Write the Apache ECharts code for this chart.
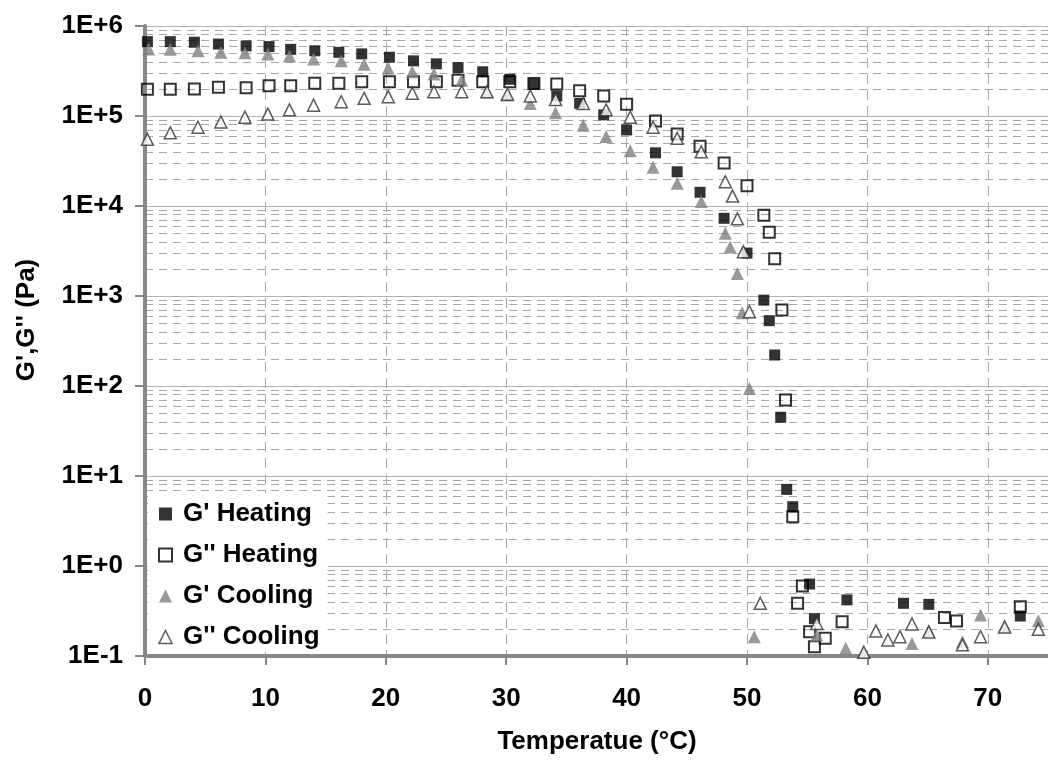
<!DOCTYPE html>
<html>
<head>
<meta charset="utf-8">
<script src="https://cdn.jsdelivr.net/npm/echarts@6/dist/echarts.min.js"></script>
<style>
	html, body { margin: 0; padding: 0; background: #fff; }
	#grafico { width: 1048px; height: 763px; }
</style>
</head>
<body>
<div id="grafico"></div>
<script>
// [temperature °C, modulus Pa]
const gPrimeHeating = [
	[0.2, 6.7e5], [2.1, 6.7e5], [4.1, 6.6e5], [6.1, 6.3e5], [8.4, 6.0e5], [10.3, 5.9e5],
	[12.1, 5.5e5], [14.1, 5.3e5], [16.1, 5.1e5], [18.0, 4.9e5], [20.3, 4.5e5], [22.3, 4.1e5],
	[24.2, 3.8e5], [26.0, 3.45e5], [28.05, 3.1e5], [30.3, 2.56e5], [32.3, 2.25e5], [34.2, 1.67e5],
	[36.1, 1.38e5], [38.1, 1.03e5], [40.0, 7.0e4], [42.4, 3.9e4], [44.2, 2.4e4], [46.1, 1.42e4],
	[48.1, 7.3e3], [50.0, 3.0e3], [51.4, 900], [51.85, 532], [52.3, 221], [52.8, 45],
	[53.3, 7.1], [53.8, 4.56], [55.2, 0.63], [55.6, 0.26], [58.3, 0.42], [63.0, 0.385],
	[65.1, 0.375], [72.7, 0.278]
];

const gDoublePrimeHeating = [
	[0.2, 1.98e5], [2.1, 1.98e5], [4.1, 2.0e5], [6.1, 2.08e5], [8.4, 2.06e5], [10.3, 2.17e5],
	[12.1, 2.17e5], [14.1, 2.31e5], [16.1, 2.31e5], [18.0, 2.4e5], [20.3, 2.4e5], [22.3, 2.4e5],
	[24.2, 2.4e5], [26.0, 2.5e5], [28.05, 2.4e5], [30.3, 2.4e5], [32.3, 2.3e5], [34.2, 2.27e5],
	[36.1, 1.91e5], [38.1, 1.67e5], [40.0, 1.35e5], [42.4, 8.8e4], [44.2, 6.3e4], [46.1, 4.6e4],
	[48.1, 3.0e4], [50.0, 1.68e4], [51.4, 7.9e3], [51.85, 5.1e3], [52.3, 2.6e3], [52.9, 700],
	[53.2, 70], [53.8, 3.53], [54.2, 0.385], [54.6, 0.6], [55.2, 0.186], [55.6, 0.127],
	[56.5, 0.157], [57.9, 0.24], [66.4, 0.267], [67.4, 0.245], [72.7, 0.353]
];

const gPrimeCooling = [
	[0.3, 5.55e5], [2.1, 5.5e5], [4.4, 5.3e5], [6.3, 5.1e5], [8.3, 5.05e5], [10.2, 4.9e5],
	[12.0, 4.65e5], [14.0, 4.3e5], [16.3, 4.1e5], [18.2, 3.75e5], [20.2, 3.4e5], [22.2, 3.1e5],
	[24.0, 2.93e5], [26.3, 2.5e5], [28.4, 1.86e5], [30.1, 1.71e5], [32.0, 1.38e5], [34.1, 1.09e5],
	[36.4, 7.9e4], [38.3, 5.9e4], [40.3, 4.1e4], [42.2, 2.7e4], [44.2, 1.79e4], [46.2, 1.12e4],
	[48.2, 4.97e3], [48.6, 3.5e3], [49.2, 1.78e3], [49.6, 650], [50.2, 94], [50.6, 0.164],
	[55.8, 0.171], [58.2, 0.122], [59.7, 0.11], [63.7, 0.138], [65.1, 0.19], [67.9, 0.144],
	[69.4, 0.286], [71.4, 0.215], [74.2, 0.246]
];

const gDoublePrimeCooling = [
	[0.2, 5.5e4], [2.1, 6.5e4], [4.4, 7.5e4], [6.3, 8.6e4], [8.3, 9.7e4], [10.2, 1.05e5],
	[12.0, 1.17e5], [14.0, 1.32e5], [16.3, 1.44e5], [18.2, 1.57e5], [20.2, 1.64e5], [22.2, 1.79e5],
	[24.0, 1.86e5], [26.3, 1.86e5], [28.4, 1.86e5], [30.1, 1.75e5], [32.0, 1.67e5], [34.1, 1.53e5],
	[36.4, 1.38e5], [38.3, 1.17e5], [40.3, 9.7e4], [42.2, 7.5e4], [44.2, 5.65e4], [46.2, 4.0e4],
	[48.2, 1.86e4], [48.8, 1.29e4], [49.2, 7.2e3], [49.7, 3.1e3], [50.2, 670], [51.1, 0.385],
	[55.8, 0.23], [59.7, 0.11], [60.7, 0.19], [61.7, 0.151], [62.7, 0.164], [63.7, 0.227],
	[65.1, 0.185], [67.9, 0.133], [69.4, 0.164], [71.4, 0.21], [74.2, 0.198]
];

const seriesNames = ["G' Heating", "G'' Heating", "G' Cooling", "G'' Cooling"];
const xTitle = 'Temperatue (°C)';
const yTitle = "G',G'' (Pa)";

const fonte = 'Arial, "Liberation Sans", sans-serif';
const corEixo = '#888';

// Excel style labels: 1E+6 ... 1E-1
function rotuloExp(v) {
	const e = Math.round(Math.log10(v));
	return '1E' + (e < 0 ? '-' : '+') + Math.abs(e);
}

const estilos = [
	{ symbol: 'rect', size: 11, item: { color: '#000' } },
	{ symbol: 'rect', size: 11, item: { color: 'rgba(0,0,0,0)', borderColor: '#000', borderWidth: 2 } },
	{ symbol: 'triangle', size: 13, item: { color: '#808080' } },
	{ symbol: 'triangle', size: 12, item: { color: '#fff', borderColor: '#333', borderWidth: 1.5 } }
];
const dados = [gPrimeHeating, gDoublePrimeHeating, gPrimeCooling, gDoublePrimeCooling];

const grafico = echarts.init(document.getElementById('grafico'));

const option = {
	animation: false,
	grid: { left: 145, right: 0, top: 26, bottom: 107 },
	xAxis: {
		type: 'value',
		min: 0,
		max: 75,
		interval: 10,
		axisLine: { show: true, onZero: false, lineStyle: { color: corEixo, width: 4 } },
		axisTick: { show: true, length: 9, lineStyle: { color: corEixo, width: 2 } },
		axisLabel: {
			margin: 30, fontSize: 26, fontWeight: 'bold', color: '#000', fontFamily: fonte,
			showMaxLabel: false
		},
		splitLine: { show: true, lineStyle: { color: '#aaa', type: [10, 6], width: 1 } }
	},
	yAxis: {
		type: 'log',
		logBase: 10,
		min: 0.1,
		max: 1e6,
		interval: 1,
		axisLine: { show: true, lineStyle: { color: corEixo, width: 4 } },
		axisTick: { show: true, length: 10, lineStyle: { color: corEixo, width: 2 } },
		axisLabel: {
			margin: 22, fontSize: 26, fontWeight: 'bold', color: '#000', fontFamily: fonte,
			formatter: rotuloExp
		},
		splitLine: { show: true, lineStyle: { color: '#b4b4b4', width: 1 } },
		minorTick: { show: false, splitNumber: 9 },
		minorSplitLine: { show: true, lineStyle: { color: '#a8a8a8', type: [8, 6], width: 1 } }
	},
	// legend box sits inside the axes so the axis lines stay visible
	legend: {
		orient: 'vertical',
		left: 148,
		top: 493,
		padding: [8, 8, 2, 10],
		backgroundColor: '#fff',
		itemWidth: 13,
		itemHeight: 13,
		itemGap: 15,
		selectedMode: false,
		textStyle: {
			fontSize: 26, fontWeight: 'bold', color: '#000', fontFamily: fonte,
			lineHeight: 25, padding: [0, 0, 0, 6]
		},
		data: seriesNames.map((n, i) => ({ name: n, icon: estilos[i].symbol, itemStyle: estilos[i].item }))
	},
	graphic: [
		{
			type: 'text', x: 27, y: 320, rotation: Math.PI / 2,
			style: { text: yTitle, font: 'bold 26px ' + fonte, fill: '#000', align: 'center', verticalAlign: 'middle' }
		},
		{
			type: 'text', x: 597, y: 742,
			style: { text: xTitle, font: 'bold 26px ' + fonte, fill: '#000', align: 'center', verticalAlign: 'middle' }
		}
	],
	series: dados.map((d, i) => ({
		name: seriesNames[i],
		type: 'scatter',
		data: d,
		symbol: estilos[i].symbol,
		symbolSize: estilos[i].size,
		itemStyle: estilos[i].item,
		z: 2 + i
	}))
};

try {
	grafico.setOption(option);
} catch (error) {
	console.error('Erro ao desenhar gráfico:', error);
}
</script>
</body>
</html>
